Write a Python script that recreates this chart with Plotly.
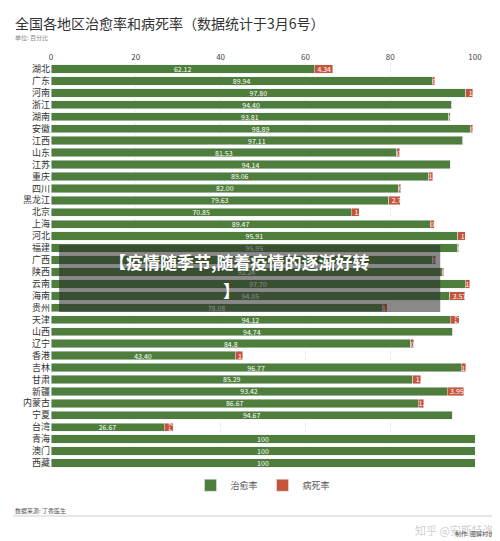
import plotly.graph_objects as go

regions = ["湖北","广东","河南","浙江","湖南","安徽","江西","山东","江苏","重庆","四川","黑龙江","北京","上海","河北","福建","广西","陕西","云南","海南","贵州","天津","山西","辽宁","香港","吉林","甘肃","新疆","内蒙古","宁夏","台湾","青海","澳门","西藏"]
cure = [62.12,89.94,97.80,94.40,93.81,98.89,97.11,81.53,94.14,89.06,82.00,79.63,70.85,89.47,95.91,95.95,90.00,92.24,97.70,94.05,78.08,94.12,94.74,84.8,43.40,96.77,85.29,93.42,86.67,94.67,26.67,100,100,100]
cure_lbl = ["62.12","89.94","97.80","94.40","93.81","98.89","97.11","81.53","94.14","89.06","82.00","79.63","70.85","89.47","95.91","95.95","90.00","92.24","97.70","94.05","78.08","94.12","94.74","84.8","43.40","96.77","85.29","93.42","86.67","94.67","26.67","100","100","100"]
death = [4.34,0.6,1.7,0.1,0.3,0.6,0.1,0.7,0,1.0,0.5,2.70,1.9,0.9,1.8,0.2,0.8,0.4,1.1,3.57,1.2,2.2,0,0.8,1.8,1.0,1.9,3.95,1.3,0,2.2,0,0,0]
death_lbl = ["4.34","0.6","1.7","0.1","0.3","0.6","0.1","0.7","0","1.0","0.5","2.70","1.9","0.9","1.8","0.2","0.8","0.4","1.1","3.57","1.2","2.2","0","0.8","1.8","1.0","1.9","3.95","1.3","0","2.2","0","0","0"]

GREEN = "#4f7e3c"
RED = "#c4553a"
fig = go.Figure()
fig.add_bar(y=regions, x=cure, orientation="h", name="治愈率", marker_color=GREEN,
            text=cure_lbl, textposition="inside", insidetextanchor="middle",
            textfont=dict(color="white", size=7), constraintext="none")
fig.add_bar(y=regions, x=death, orientation="h", name="病死率", marker_color=RED,
            text=death_lbl, textposition="inside", insidetextanchor="start",
            textfont=dict(color="white", size=7), constraintext="none")
fig.update_layout(
    barmode="stack", bargap=0.3, width=500, height=541,
    margin=dict(l=43, r=33, t=55, b=80),
    paper_bgcolor="white", plot_bgcolor="white",
    font=dict(family="Noto Sans CJK SC", color="#333"),
    showlegend=True,
    legend=dict(orientation="h", x=0.5, xanchor="center", y=-0.04, yanchor="middle",
                traceorder="normal", itemwidth=30, font=dict(size=9, color="#555")),
    xaxis=dict(side="top", range=[0,100], tickvals=[0,20,40,60,80,100], tickfont=dict(size=8, color="#444"),
               showgrid=True, gridcolor="#e8e8e8", griddash="dot", zeroline=False, automargin=False),
    yaxis=dict(autorange="reversed", tickfont=dict(size=9, color="#333"), ticks="", showgrid=False, automargin=False),
    shapes=[
        dict(type="rect", xref="paper", yref="paper", x0=0.019, x1=0.918, y0=0.387, y1=0.552,
             fillcolor="rgba(40,40,40,0.55)", line=dict(width=0)),
        dict(type="line", xref="paper", yref="paper", x0=-0.09, x1=1.06, y0=-0.116, y1=-0.116,
             line=dict(color="#e6e6e6", width=2)),
    ],
    annotations=[
        dict(text="全国各地区治愈率和病死率（数据统计于3月6号）", xref="paper", yref="paper", x=-0.09, y=1.099,
             xanchor="left", yanchor="middle", showarrow=False, font=dict(size=14, color="#333")),
        dict(text="单位: 百分比", xref="paper", yref="paper", x=-0.09, y=1.064,
             xanchor="left", yanchor="middle", showarrow=False, font=dict(size=6, color="#888")),
        dict(text="<b>【疫情随季节,随着疫情的逐渐好转</b>", xref="paper", yref="paper", x=0.445, y=0.51,
             xanchor="center", yanchor="middle", showarrow=False,
             font=dict(size=17, color="white", family="Noto Sans CJK SC")),
        dict(text="<b>】</b>", xref="paper", yref="paper", x=0.425, y=0.44,
             xanchor="center", yanchor="middle", showarrow=False,
             font=dict(size=17, color="white", family="Noto Sans CJK SC")),
        dict(text="数据来源: 丁香医生", xref="paper", yref="paper", x=-0.09, y=-0.103,
             xanchor="left", yanchor="middle", showarrow=False, font=dict(size=6, color="#555")),
        dict(text="知乎 @安斯特洛", xref="paper", yref="paper", x=1.05, y=-0.15,
             xanchor="right", yanchor="middle", showarrow=False, font=dict(size=11, color="#d0d0d0")),
        dict(text="制作: 图解村长", xref="paper", yref="paper", x=1.05, y=-0.158,
             xanchor="right", yanchor="middle", showarrow=False, font=dict(size=6, color="#555")),
    ],
)
fig.write_html("out.html")
